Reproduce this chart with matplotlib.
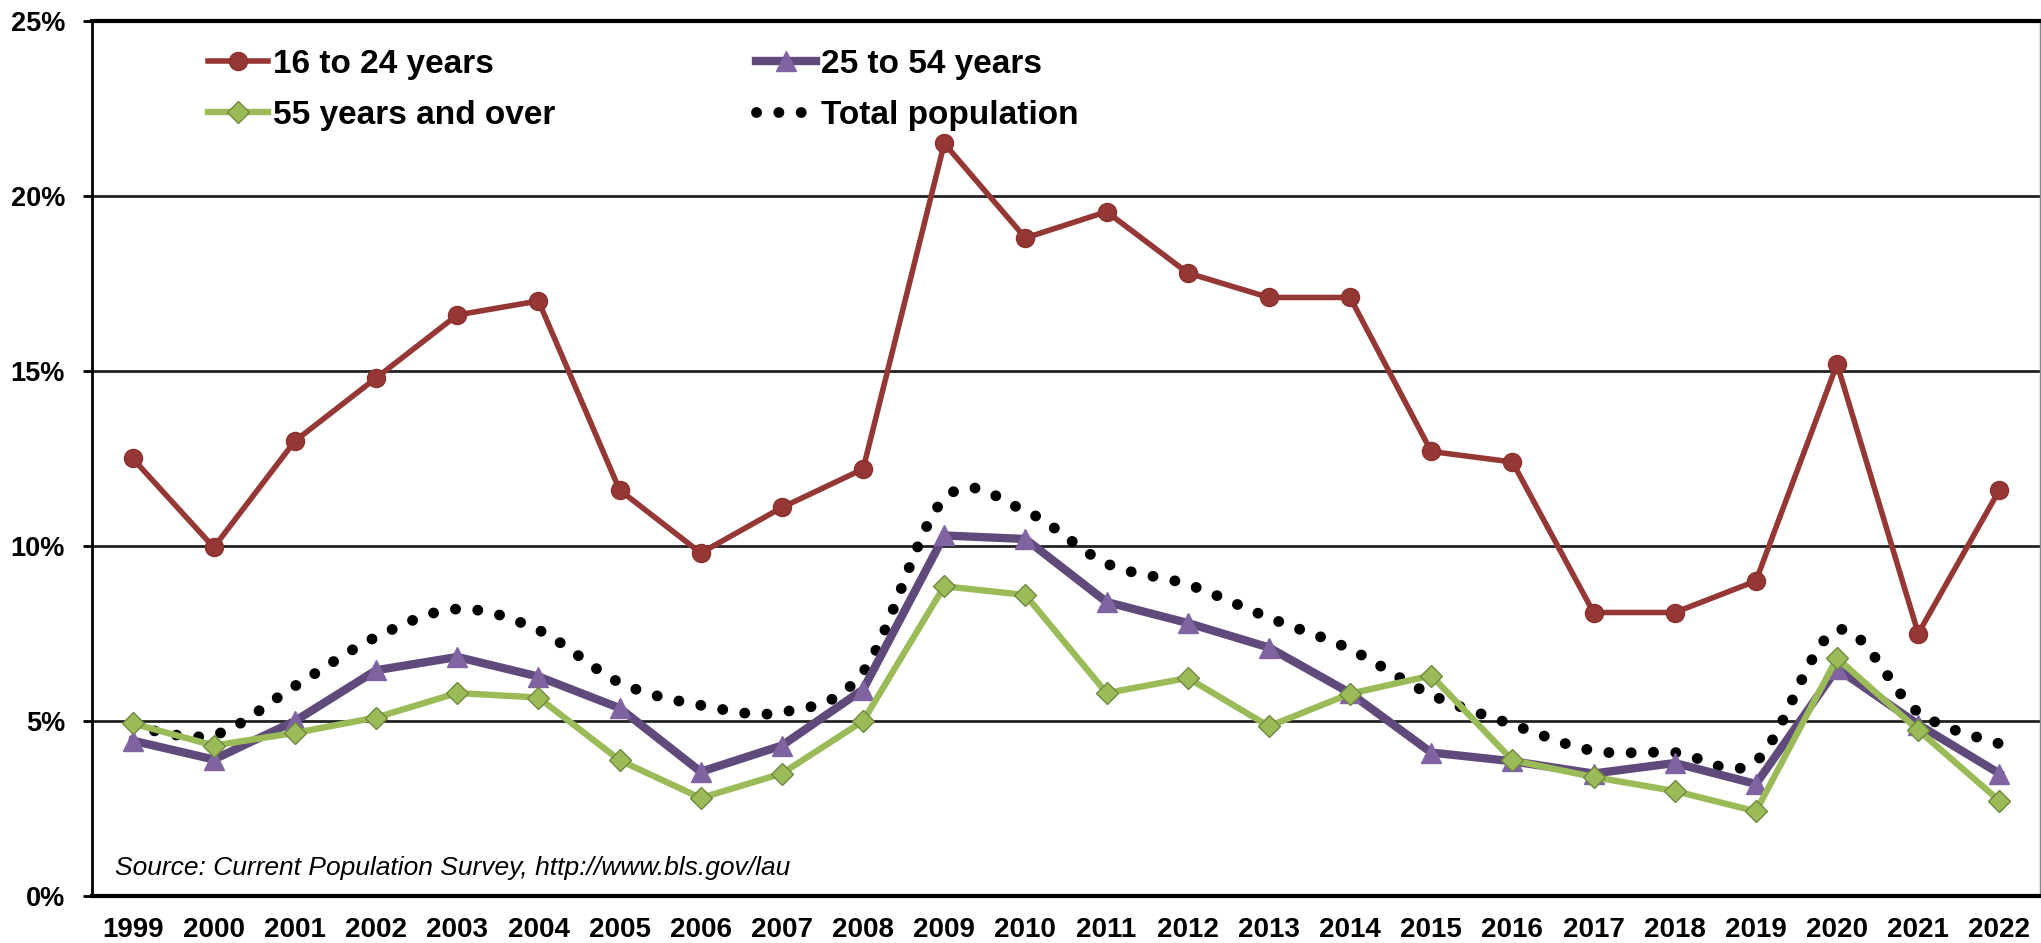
# Import libraries
import numpy as np
import matplotlib
matplotlib.use('Agg')
import matplotlib.pyplot as plt
from matplotlib.path import Path
from matplotlib.patches import PathPatch
from matplotlib.lines import Line2D
from matplotlib.ticker import FuncFormatter

plt.rcParams['font.family'] = ['Liberation Sans', 'DejaVu Sans']

# Data (unemployment rate, %)
years = ['1999', '2000', '2001', '2002', '2003', '2004', '2005', '2006', '2007', '2008',
         '2009', '2010', '2011', '2012', '2013', '2014', '2015', '2016', '2017', '2018',
         '2019', '2020', '2021', '2022']
age_16_24 = [12.5, 9.96, 13.0, 14.8, 16.6, 17.0, 11.6, 9.8, 11.1, 12.2,
             21.5, 18.8, 19.55, 17.8, 17.1, 17.1, 12.7, 12.4, 8.1, 8.1,
             9.0, 15.2, 7.5, 11.6]
age_25_54 = [4.44, 3.9, 5.0, 6.45, 6.83, 6.27, 5.37, 3.55, 4.3, 5.9,
             10.3, 10.2, 8.4, 7.8, 7.1, 5.8, 4.1, 3.85, 3.5, 3.8,
             3.2, 6.5, 4.9, 3.5]
age_55_over = [4.93, 4.3, 4.66, 5.1, 5.8, 5.67, 3.88, 2.8, 3.5, 5.0,
               8.85, 8.6, 5.8, 6.23, 4.85, 5.78, 6.3, 3.88, 3.4, 3.0,
               2.42, 6.8, 4.74, 2.72]
total_pop = [4.85, 4.6, 6.0, 7.4, 8.2, 7.6, 6.1, 5.45, 5.25, 6.4,
             11.35, 11.0, 9.5, 8.9, 7.95, 7.05, 5.75, 4.9, 4.15, 4.1,
             3.85, 7.6, 5.25, 4.35]
labels = ['16 to 24 years', '25 to 54 years', '55 years and over', 'Total population']

x = np.arange(len(years))

fig = plt.figure(figsize=(20.41, 9.43), dpi=100)
ax = fig.add_axes([0.0451, 0.0498, 0.9544, 0.928])

# dotted style: round black dots, about 10px across and 22px apart
dot_lw = 7.8
dot_style = (0, (0.01, 2.05))

# Smoothed dotted line for the total population (Bezier through the data points)
pts = np.column_stack([x, total_pop]).astype(float)
verts = [pts[0]]
codes = [Path.MOVETO]
n = len(pts)
for i in range(n - 1):
    p0 = pts[i - 1] if i > 0 else pts[i]
    p1 = pts[i]
    p2 = pts[i + 1]
    p3 = pts[i + 2] if i + 2 < n else pts[i + 1]
    verts += [p1 + (p2 - p0) / 6, p2 - (p3 - p1) / 6, p2]
    codes += [Path.CURVE4] * 3
dotted = PathPatch(Path(verts, codes), facecolor='none', edgecolor='black',
                   linewidth=dot_lw, linestyle=dot_style, capstyle='round', zorder=2)
ax.add_patch(dotted)

# The three age groups
l1, = ax.plot(x, age_16_24, color='#953735', linewidth=4.0, marker='o', markersize=13,
              markerfacecolor='#953735', markeredgecolor='#8a302e', zorder=3)
l2, = ax.plot(x, age_25_54, color='#604A7B', linewidth=6.0, marker='^', markersize=14,
              markerfacecolor='#8064A2', markeredgecolor='#8064A2', zorder=4)
l3, = ax.plot(x, age_55_over, color='#9BBB59', linewidth=4.6, marker='D', markersize=11,
              markerfacecolor='#9BBB59', markeredgecolor='#71893F', zorder=5)
l4 = Line2D([], [], color='black', linewidth=dot_lw, linestyle=dot_style,
            dash_capstyle='round')

# Axes styling
ax.set_xlim(-0.5, 23.5)
ax.set_ylim(0, 25)
ax.set_yticks([0, 5, 10, 15, 20, 25])
ax.yaxis.set_major_formatter(FuncFormatter(lambda v, p: '%d%%' % v))
ax.set_xticks(x)
ax.set_xticklabels(years)
ax.grid(axis='y', color='#222222', linewidth=2)
ax.set_axisbelow(True)
ax.tick_params(axis='x', length=0, pad=15, labelsize=20)
ax.tick_params(axis='y', length=6.5, width=2, pad=13, labelsize=19.5)
for t in ax.get_xticklabels() + ax.get_yticklabels():
    t.set_fontweight('bold')
ax.spines['left'].set_linewidth(2)
ax.spines['bottom'].set_linewidth(3)
ax.spines['top'].set_linewidth(3)
ax.spines['right'].set_linewidth(1)
ax.spines['right'].set_color('#888888')

# Legend: two rows, filled row by row
ax.legend([l1, l3, l2, l4], [labels[0], labels[2], labels[1], labels[3]], ncol=2,
          loc='upper left', bbox_to_anchor=(0.0596, 0.968), borderpad=0, borderaxespad=0,
          frameon=False, handlelength=1.8, handletextpad=0.15, columnspacing=6.0,
          labelspacing=0.6, prop={'weight': 'bold', 'size': 24})

# Source note
ax.text(0.012, 0.032, 'Source: Current Population Survey, http://www.bls.gov/lau',
        transform=ax.transAxes, fontsize=19, style='italic', va='center', ha='left')

plt.savefig('out.png', dpi=100)
